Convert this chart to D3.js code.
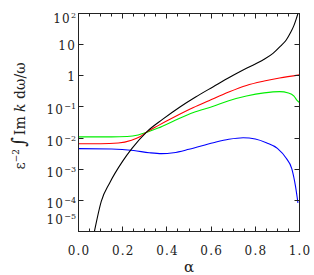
<!DOCTYPE html>
<html>
<head>
<meta charset="utf-8">
<style>
body { margin: 0; background: #fff; }
text { font-family: "DejaVu Serif", serif; fill: #222; }
.frame { fill: none; stroke: #222; stroke-width: 1; }
.tick { stroke: #222; stroke-width: 1; }
.curve { fill: none; stroke-width: 1.1; }
</style>
</head>
<body>
<svg width="314" height="275"></svg>
<script src="https://cdn.jsdelivr.net/npm/d3@7"></script>
<script>

// values: alpha and log10 of eps^-2 * integral
var blackAlpha = [0.072, 0.103, 0.141, 0.2, 0.242, 0.31, 0.38, 0.459, 0.53, 0.61, 0.686, 0.76, 0.838, 0.88, 0.914, 0.94, 0.959, 0.975, 0.985, 0.993];
var blackLog   = [-5.0, -4.03, -3.44, -2.74, -2.33, -1.79, -1.40, -1.00, -0.68, -0.35, -0.04, 0.24, 0.52, 0.72, 0.95, 1.15, 1.38, 1.62, 1.82, 2.0];

var redAlpha = [0, 0.1, 0.18, 0.24, 0.28, 0.31, 0.36, 0.44, 0.52, 0.59, 0.68, 0.76, 0.84, 0.91, 1.0];
var redLog   = [-2.18, -2.18, -2.16, -2.07, -1.95, -1.80, -1.60, -1.30, -1.02, -0.80, -0.52, -0.31, -0.17, -0.07, 0.03];

var greenAlpha = [0, 0.15, 0.22, 0.27, 0.31, 0.36, 0.44, 0.52, 0.61, 0.68, 0.76, 0.84, 0.91, 0.95, 0.975, 0.99, 1.0];
var greenLog   = [-1.96, -1.96, -1.95, -1.90, -1.81, -1.68, -1.42, -1.18, -0.98, -0.80, -0.65, -0.55, -0.51, -0.55, -0.65, -0.80, -0.86];

var blueAlpha = [0, 0.15, 0.25, 0.32, 0.376, 0.43, 0.5, 0.61, 0.68, 0.745, 0.8, 0.85, 0.9, 0.94, 0.965, 0.982, 0.993];
var blueLog   = [-2.34, -2.35, -2.40, -2.47, -2.50, -2.47, -2.36, -2.15, -2.04, -1.99, -2.03, -2.15, -2.33, -2.65, -2.98, -3.55, -4.08];

var xTicks = [0, 0.2, 0.4, 0.6, 0.8, 1.0];
var xTickLabels = ["0.0", "0.2", "0.4", "0.6", "0.8", "1.0"];
var yTicks = [1e2, 1e1, 1, 1e-1, 1e-2, 1e-3, 1e-4, 1e-5];
var yTickBase = ["10", "10", "1", "10", "10", "10", "10", "10"];
var yTickSup  = ["2", "", "", "\u22121", "\u22122", "\u22123", "\u22124", "\u22125"];

var svg = d3.select("svg");
var pLeft = 78.5, pRight = 299.5, pTop = 13.5, pBottom = 231.5;

var x = d3.scaleLinear().domain([0, 1]).range([pLeft, pRight]);
var y = d3.scaleLog().domain([1e-5, 1e2]).range([pBottom, pTop]);

svg.append("clipPath").attr("id", "clip")
  .append("rect").attr("x", pLeft).attr("y", pTop)
  .attr("width", pRight - pLeft).attr("height", pBottom - pTop);

var line = d3.line()
  .x(function(d) { return x(d[0]); })
  .y(function(d) { return y(d[1]); })
  .curve(d3.curveMonotoneX);

var series = [
  { a: greenAlpha, v: greenLog, c: "#00ee00" },
  { a: redAlpha, v: redLog, c: "#ff0000" },
  { a: blueAlpha, v: blueLog, c: "#0000ff" },
  { a: blackAlpha, v: blackLog, c: "#000000" }
];

svg.append("g").attr("clip-path", "url(#clip)")
  .selectAll("path")
  .data(series)
  .enter().append("path")
    .attr("class", "curve")
    .attr("stroke", function(s) { return s.c; })
    .attr("d", function(s) {
      return line(s.a.map(function(a, i) { return [a, Math.pow(10, s.v[i])]; }));
    });

// frame
svg.append("rect").attr("class", "frame")
  .attr("x", pLeft).attr("y", pTop)
  .attr("width", pRight - pLeft).attr("height", pBottom - pTop);

// x ticks, inward on bottom and top
var ticks = svg.append("g");
d3.range(0, 21).forEach(function(i) {
  var t = i / 20, len = (i % 4 === 0) ? 5 : 3;
  var px = Math.round(x(t) - 0.5) + 0.5;
  ticks.append("line").attr("class", "tick")
    .attr("x1", px).attr("x2", px).attr("y1", pBottom).attr("y2", pBottom - len);
  ticks.append("line").attr("class", "tick")
    .attr("x1", px).attr("x2", px).attr("y1", pTop).attr("y2", pTop + len);
});

// y ticks, inward on left and right
yTicks.forEach(function(t) {
  var py = Math.round(y(t) - 0.5) + 0.5;
  ticks.append("line").attr("class", "tick")
    .attr("x1", pLeft).attr("x2", pLeft + 5).attr("y1", py).attr("y2", py);
  ticks.append("line").attr("class", "tick")
    .attr("x1", pRight).attr("x2", pRight - 5).attr("y1", py).attr("y2", py);
});

// x tick labels
svg.append("g").selectAll("text")
  .data(xTicks)
  .enter().append("text")
    .attr("x", function(d) { return x(d) + 0.6; })
    .attr("y", 254.5)
    .attr("text-anchor", "middle")
    .style("font-size", "12px")
    .style("letter-spacing", "1.2px")
    .text(function(d, i) { return xTickLabels[i]; });

// y tick labels
var yl = svg.append("g").selectAll("text")
  .data(yTicks)
  .enter().append("text")
    .attr("x", 76)
    .attr("y", function(d, i) {
      var py = y(d);
      if (!yTickSup[i]) return py + 5.7;
      return Math.min(Math.max(py + 7.5, pTop + 9.5), pBottom - 7.5);
    })
    .attr("text-anchor", "end")
    .style("font-size", "12px");
yl.append("tspan")
  .style("letter-spacing", "1.2px")
  .text(function(d, i) { return yTickBase[i]; });
yl.append("tspan")
  .attr("dy", function(d, i) { return yTickSup[i] ? -5 : 0; })
  .style("font-size", "8px")
  .text(function(d, i) { return yTickSup[i]; });

// x axis title
svg.append("text")
  .attr("x", (pLeft + pRight) / 2)
  .attr("y", 271.5)
  .attr("text-anchor", "middle")
  .style("font-size", "15px")
  .text("\u03b1");

// y axis title
var yt = svg.append("text")
  .attr("transform", "translate(25,116) rotate(-90)")
  .attr("text-anchor", "middle")
  .style("font-size", "14px");
yt.append("tspan").text("\u03b5");
yt.append("tspan").attr("dy", -6).style("font-size", "9px").text("\u22122");
yt.append("tspan").attr("dy", 6).attr("dx", 2).style("font-size", "19px").text("\u222b");
yt.append("tspan").attr("dx", 2).text("Im ");
yt.append("tspan").style("font-style", "italic").text("k");
yt.append("tspan").text(" d\u03c9/\u03c9");

</script>
</body>
</html>
